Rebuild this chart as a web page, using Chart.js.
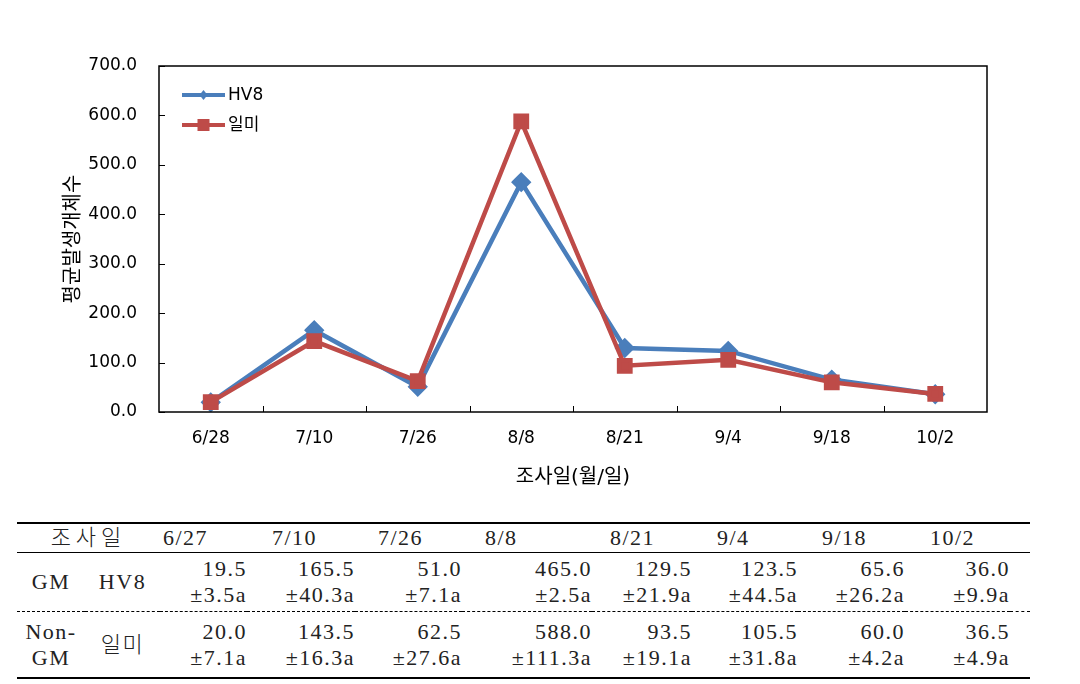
<!DOCTYPE html>
<html>
<head>
<meta charset="utf-8">
<script src="https://cdn.jsdelivr.net/npm/chart.js@4"></script>
<style>
  html, body { margin: 0; padding: 0; background: #fff; }
  #wrap { position: relative; width: 1080px; height: 684px; overflow: hidden; }
  #chart-box { position: absolute; left: 0; top: 0; width: 1080px; height: 500px; }
  #tbl {
    position: absolute; left: 17px; top: 522px; border-collapse: collapse;
    font-family: "Liberation Serif", "Noto Sans CJK KR", serif; font-size: 22px; color: #222;
    letter-spacing: 1.5px;
  }
  #tbl td { padding: 0; line-height: 26px; white-space: nowrap; }
  #tbl tr.head td { height: 28px; border-top: 2px solid #000; border-bottom: 1px solid #000; }
  #tbl tr.r1 td { height: 58px; border-bottom: 1px dashed #000; }
  #tbl tr.r2 td { height: 65px; border-bottom: 2px solid #000; }
  #tbl td.num { text-align: right; vertical-align: middle; }
  #tbl td.lab { text-align: center; vertical-align: middle; }
  #tbl .kr { font-weight: 300; }
</style>
</head>
<body>
<div id="wrap">
  <div id="chart-box"><canvas id="c"></canvas></div>
  <table id="tbl"></table>
</div>

<script>
// chart data
const dates = ['6/28', '7/10', '7/26', '8/8', '8/21', '9/4', '9/18', '10/2'];
const hv8 = [19.5, 165.5, 51.0, 465.0, 129.5, 123.5, 65.6, 36.0];
const ilmi = [20.0, 143.5, 62.5, 588.0, 93.5, 105.5, 60.0, 36.5];
const yTicks = [0, 100, 200, 300, 400, 500, 600, 700];

// table data
const tableDates = ['6/27', '7/10', '7/26', '8/8', '8/21', '9/4', '9/18', '10/2'];
const hv8Err = ['3.5a', '40.3a', '7.1a', '2.5a', '21.9a', '44.5a', '26.2a', '9.9a'];
const ilmiErr = ['7.1a', '16.3a', '27.6a', '111.3a', '19.1a', '31.8a', '4.2a', '4.9a'];

const BLUE = '#4A7EBB';
const RED = '#BE4B48';
const FONT = '"DejaVu Sans", "Noto Sans CJK KR", sans-serif';

// plot frame, inward tick marks and inside legend
const framePlugin = {
  id: 'frame',
  afterDraw(chart) {
    const ctx = chart.ctx;
    const a = chart.chartArea;
    const xs = chart.scales.x, ys = chart.scales.y;
    ctx.save();
    ctx.strokeStyle = '#000';
    ctx.lineWidth = 1.5;
    ctx.strokeRect(a.left, a.top, a.right - a.left, a.bottom - a.top);
    ctx.lineWidth = 1;
    ctx.beginPath();
    ys.ticks.forEach(t => {
      const y = Math.round(ys.getPixelForValue(t.value)) + 0.5;
      ctx.moveTo(a.left, y); ctx.lineTo(a.left + 6, y);
    });
    for (let i = 1; i < dates.length; i++) {
      const x = Math.round((xs.getPixelForValue(i - 1) + xs.getPixelForValue(i)) / 2) + 0.5;
      ctx.moveTo(x, a.bottom); ctx.lineTo(x, a.bottom - 6);
    }
    ctx.stroke();

    // legend
    chart.data.datasets.forEach((ds, i) => {
      const y = a.top + 29 + i * 30;
      const x0 = a.left + 23, x1 = a.left + 66;
      ctx.strokeStyle = ds.borderColor;
      ctx.lineWidth = 4;
      ctx.beginPath(); ctx.moveTo(x0, y); ctx.lineTo(x1, y); ctx.stroke();
      ctx.fillStyle = ds.backgroundColor;
      const cx = (x0 + x1) / 2;
      if (ds.pointStyle === 'rect') {
        ctx.fillRect(cx - 6, y - 6, 12, 12);
      } else {
        ctx.beginPath();
        ctx.moveTo(cx, y - 5); ctx.lineTo(cx + 4, y); ctx.lineTo(cx, y + 5); ctx.lineTo(cx - 4, y);
        ctx.closePath(); ctx.fill();
      }
      ctx.fillStyle = '#000';
      ctx.font = '17px ' + FONT;
      ctx.textBaseline = 'middle';
      ctx.fillText(ds.label, x1 + 3, y + 1);
    });
    ctx.restore();
  }
};

new Chart(document.getElementById('c'), {
  type: 'line',
  data: {
    labels: dates,
    datasets: [{
      label: 'HV8',
      data: hv8,
      borderColor: BLUE,
      backgroundColor: BLUE,
      borderWidth: 4.5,
      pointStyle: 'rectRot',
      pointRadius: 7,
      pointHoverRadius: 7,
      tension: 0,
      order: 1
    }, {
      label: '일미',
      data: ilmi,
      borderColor: RED,
      backgroundColor: RED,
      borderWidth: 4.5,
      pointStyle: 'rect',
      pointRadius: 8,
      pointHoverRadius: 8,
      tension: 0,
      order: 0
    }]
  },
  options: {
    responsive: true,
    maintainAspectRatio: false,
    animation: false,
    layout: { padding: { left: 60, right: 93, top: 66, bottom: 0 } },
    plugins: { legend: { display: false }, tooltip: { enabled: false } },
    scales: {
      x: {
        offset: true,
        grid: { display: false, drawTicks: false },
        border: { display: false },
        ticks: { color: '#000', font: { family: FONT, size: 17 }, padding: 16, maxRotation: 0 },
        title: { display: true, text: '조사일(월/일)', color: '#000', font: { family: FONT, size: 20 }, padding: { top: 0, bottom: 10 } },
        afterFit(s) { s.height = 88; }
      },
      y: {
        min: 0,
        max: 700,
        afterBuildTicks(s) { s.ticks = yTicks.map(v => ({ value: v })); },
        grid: { display: false, drawTicks: false },
        border: { display: false },
        ticks: { color: '#000', font: { family: FONT, size: 17 }, padding: 22, callback: v => v.toFixed(1) },
        title: { display: true, text: '평균발생개체수', color: '#000', font: { family: FONT, size: 20 }, padding: { top: 2, bottom: 0 } },
        afterFit(s) { s.width = 99; }
      }
    }
  },
  plugins: [framePlugin]
});

// table below the chart
const colW = [68, 75, 87, 108, 107, 130, 100, 106, 107, 105, 20];
const headPad = [3, 25, 23, 23, 18, 25, 24, 25];
let html = '<colgroup>' + colW.map(w => '<col style="width:' + w + 'px">').join('') + '</colgroup>';
html += '<tr class="head"><td colspan="2" class="lab kr" style="letter-spacing:5px">조사일</td>';
tableDates.forEach((d, i) => {
  html += '<td style="padding-left:' + headPad[i] + 'px">' + d + '</td>';
});
html += '<td></td></tr>';
html += '<tr class="r1"><td class="lab">GM</td><td class="lab">HV8</td>';
hv8.forEach((v, i) => {
  html += '<td class="num">' + v.toFixed(1) + '<br>±' + hv8Err[i] + '</td>';
});
html += '<td></td></tr>';
html += '<tr class="r2"><td class="lab">Non-<br>GM</td><td class="lab kr">일미</td>';
ilmi.forEach((v, i) => {
  html += '<td class="num">' + v.toFixed(1) + '<br>±' + ilmiErr[i] + '</td>';
});
html += '<td></td></tr>';
document.getElementById('tbl').innerHTML = html;
</script>
</body>
</html>
